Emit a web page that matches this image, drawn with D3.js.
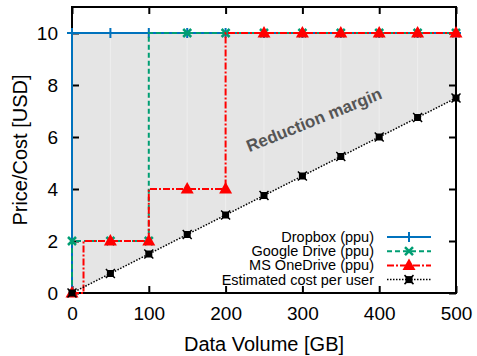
<!DOCTYPE html>
<html>
<head>
<meta charset="utf-8">
<script src="https://cdn.jsdelivr.net/npm/d3@7"></script>
<style>
  body { margin: 0; background: #fff; }
  text { font-family: "Liberation Sans", Arial, sans-serif; }
</style>
</head>
<body>
<div id="chart-area"></div>
<script>
// data (GB -> USD)
var dropboxX = [0, 0, 50, 100, 150, 200, 250, 300, 350, 400, 450, 500];
var dropboxY = [0, 10, 10, 10, 10, 10, 10, 10, 10, 10, 10, 10];
var googleX = [0, 0, 50, 100, 100, 150, 200, 250, 300, 350, 400, 450, 500];
var googleY = [0, 2, 2, 2, 10, 10, 10, 10, 10, 10, 10, 10, 10];
var onedriveX = [0, 15, 15, 50, 100, 100, 150, 200, 200, 250, 300, 350, 400, 450, 500];
var onedriveY = [0, 0, 2, 2, 2, 4, 4, 4, 10, 10, 10, 10, 10, 10, 10];
var markX = [0, 50, 100, 150, 200, 250, 300, 350, 400, 450, 500];
var dropboxMarks = [10, 10, 10, 10, 10, 10, 10, 10, 10, 10, 10];
var googleMarks = [2, 2, 2, 10, 10, 10, 10, 10, 10, 10, 10];
var onedriveMarks = [0, 2, 2, 4, 4, 10, 10, 10, 10, 10, 10];
var costY = [0, 0.75, 1.5, 2.25, 3, 3.75, 4.5, 5.25, 6, 6.75, 7.5];
var priceTop = 10;
var xTicks = [0, 100, 200, 300, 400, 500];
var yTicks = [0, 2, 4, 6, 8, 10];
var legendNames = ["Dropbox (ppu)", "Google Drive (ppu)", "MS OneDrive (ppu)", "Estimated cost per user"];

var canvasWidth = 477;
var canvasHeight = 356;
var margin = { left: 72, right: 21, top: 7, bottom: 63 };
var width = canvasWidth - margin.left - margin.right;
var height = canvasHeight - margin.top - margin.bottom;

var svg = d3.select("#chart-area")
    .append("svg")
        .attr("width", canvasWidth)
        .attr("height", canvasHeight);
var g = svg.append("g")
        .attr("transform", `translate(${margin.left},${margin.top})`);

var x = d3.scaleLinear().domain([0, 500]).range([0, width]);
var y = d3.scaleLinear().domain([0, 11]).range([height, 0]);

var blue = "#0072bd", green = "#009e73", red = "#ff0000";

// shaded margin between price and cost
var area = d3.area()
    .x((d, i) => x(markX[i]))
    .y0(d => y(d))
    .y1(y(priceTop));
g.append("path")
    .attr("d", area(costY))
    .attr("fill", "#e5e5e5");

// faint seams in the fill
g.selectAll(".seam")
    .data(markX.slice(1, -1))
    .enter().append("line")
    .attr("x1", d => x(d)).attr("x2", d => x(d))
    .attr("y1", y(priceTop))
    .attr("y2", (d, i) => y(costY[i + 1]))
    .attr("stroke", "#eeeeee")
    .attr("stroke-width", 1);

// axes, ticks pointing inward on all sides
var fmt = d3.format("d");
g.append("g")
    .attr("transform", `translate(0,${height})`)
    .call(d3.axisBottom(x).tickValues(xTicks).tickSize(-7).tickPadding(14).tickFormat(fmt))
    .call(ax => ax.selectAll("text").attr("font-size", "19px").attr("fill", "#000"));
g.append("g")
    .call(d3.axisTop(x).tickValues(xTicks).tickSize(-7).tickFormat(""));
g.append("g")
    .call(d3.axisLeft(y).tickValues(yTicks).tickSize(-7).tickPadding(14).tickFormat(fmt))
    .call(ax => ax.selectAll("text").attr("font-size", "19px").attr("fill", "#000"));
g.append("g")
    .attr("transform", `translate(${width},0)`)
    .call(d3.axisRight(y).tickValues(yTicks).tickSize(-7).tickFormat(""));
g.selectAll(".domain").remove();
g.selectAll(".tick line").attr("stroke", "#000").attr("stroke-width", 2);
g.selectAll(".tick text").attr("font-family", "Liberation Sans, Arial, sans-serif");

g.append("rect")
    .attr("width", width)
    .attr("height", height)
    .attr("fill", "none")
    .attr("stroke", "#000")
    .attr("stroke-width", 2);

// axis labels
g.append("text")
    .attr("x", width / 2)
    .attr("y", height + 58)
    .attr("font-size", "20px")
    .attr("text-anchor", "middle")
    .text("Data Volume [GB]");
g.append("text")
    .attr("transform", `translate(${27 - margin.left},${height / 2}) rotate(-90)`)
    .attr("font-size", "20px")
    .attr("text-anchor", "middle")
    .text("Price/Cost [USD]");

// annotation
g.append("text")
    .attr("transform", `translate(${x(318)},${y(6.45)}) rotate(-22)`)
    .attr("font-size", "17px")
    .attr("font-weight", "bold")
    .attr("fill", "#555")
    .attr("text-anchor", "middle")
    .text("Reduction margin");

// marker shapes
function plus(sel) {
    sel.append("path").attr("d", "M-5,0H5M0,-5V5").attr("stroke", blue).attr("stroke-width", 2).attr("fill", "none");
}
function cross(sel) {
    sel.append("path").attr("d", "M-4,-4L4,4M-4,4L4,-4").attr("stroke", green).attr("stroke-width", 2.5).attr("fill", "none");
}
function tri(sel) {
    sel.append("path").attr("d", "M0,-7L6.5,4.5H-6.5Z").attr("fill", red);
}
function box(sel) {
    sel.append("rect").attr("x", -3.5).attr("y", -3.5).attr("width", 7).attr("height", 7).attr("fill", "#000");
    sel.append("path").attr("d", "M-4.5,-4.5L4.5,4.5M-4.5,4.5L4.5,-4.5").attr("stroke", "#000").attr("stroke-width", 1.5);
}

var series = [
    { xs: dropboxX, ys: dropboxY, marks: dropboxMarks, color: blue, dash: null, width: 2, shape: plus },
    { xs: googleX, ys: googleY, marks: googleMarks, color: green, dash: "5,3", width: 2, shape: cross },
    { xs: onedriveX, ys: onedriveY, marks: onedriveMarks, color: red, dash: "7,2,2,2", width: 2, shape: tri },
    { xs: markX, ys: costY, marks: costY, color: "#000", dash: "1.5,1.5", width: 1.5, shape: box }
];

var line = d3.line().x(d => x(d[0])).y(d => y(d[1]));

series.forEach(s => {
    g.append("path")
        .attr("d", line(s.xs.map((v, i) => [v, s.ys[i]])))
        .attr("fill", "none")
        .attr("stroke", s.color)
        .attr("stroke-width", s.width)
        .attr("stroke-dasharray", s.dash);
    g.selectAll(null)
        .data(s.marks)
        .enter().append("g")
        .attr("transform", (d, i) => `translate(${x(markX[i])},${y(d)})`)
        .each(function () { s.shape(d3.select(this)); });
});

// legend
var legend = svg.append("g");
legendNames.forEach((name, i) => {
    var s = series[i];
    var cy = 237 + i * 14.2;
    legend.append("text")
        .attr("x", 374)
        .attr("y", cy + 5)
        .attr("font-size", "14.5px")
        .attr("text-anchor", "end")
        .text(name);
    legend.append("line")
        .attr("x1", 387).attr("x2", 431)
        .attr("y1", cy).attr("y2", cy)
        .attr("stroke", s.color)
        .attr("stroke-width", s.width)
        .attr("stroke-dasharray", s.dash);
    var m = legend.append("g").attr("transform", `translate(409,${cy})`);
    s.shape(m);
});
</script>
</body>
</html>
